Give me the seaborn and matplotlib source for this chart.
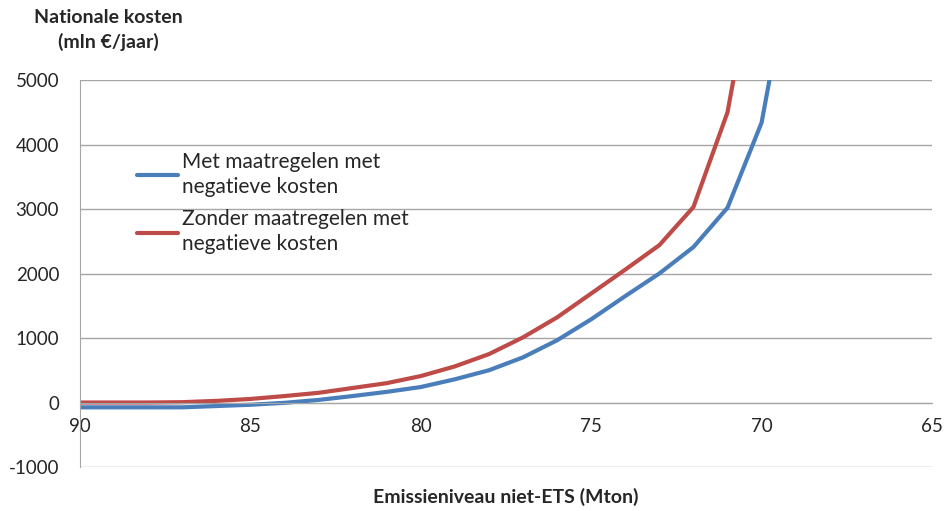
import pandas as pd
import numpy as np
import seaborn as sns
import matplotlib.pyplot as plt

# ============================================================
# DATA
# ============================================================
emissie = [90, 89, 88, 87, 86, 85, 84, 83, 82, 81, 80, 79, 78, 77, 76, 75, 74, 73, 72, 71, 70, 69]
met_neg = [-75, -75, -75, -75, -55, -35, -5, 40, 100, 165, 240, 360, 500, 700, 965, 1290,
           1650, 2000, 2410, 3020, 4340, 7200]
zonder_neg = [0, 0, 0, 5, 25, 55, 100, 150, 225, 300, 410, 560, 750, 1010, 1320, 1690,
              2060, 2440, 3030, 4500, 7400, np.nan]

label_met = "Met maatregelen met\nnegatieve kosten"
label_zonder = "Zonder maatregelen met\nnegatieve kosten"

df = pd.DataFrame({"emissie": emissie, label_met: met_neg, label_zonder: zonder_neg})
long_df = df.melt(id_vars="emissie", var_name="reeks", value_name="kosten").dropna()

# ============================================================
# PLOT
# ============================================================
sns.set_style("white")
plt.rcParams["font.family"] = ["Lato", "DejaVu Sans"]
plt.rcParams["axes.unicode_minus"] = False

fig = plt.figure(figsize=(9.52, 5.11), dpi=100)
ax = fig.add_axes([80 / 952, 1 - 467 / 511, 852 / 952, 387 / 511])

sns.lineplot(data=long_df, x="emissie", y="kosten", hue="reeks",
             palette=["#4a7ebb", "#be4b48"], linewidth=3, ax=ax,
             hue_order=[label_met, label_zonder], sort=False)

ax.set_xlim(90, 65)
ax.set_ylim(-1000, 5000)
ax.set_xticks([90, 85, 80, 75, 70, 65])
ax.set_yticks(range(-1000, 5001, 1000))
ax.yaxis.grid(True, color="#a6a6a6", linewidth=1)
ax.set_axisbelow(True)

for s in ["top", "right"]:
    ax.spines[s].set_visible(False)
ax.spines["left"].set_color("#a6a6a6")
ax.spines["bottom"].set_position(("data", 0))
ax.spines["bottom"].set_color("#a6a6a6")
ax.tick_params(axis="x", direction="out", length=6, color="#a6a6a6",
               labelsize=13.5, pad=5)
ax.tick_params(axis="y", length=0, labelsize=13.5, pad=15)

ax.set_xlabel("")
ax.set_ylabel("")
fig.text(506 / 952, 1 - 497 / 511, "Emissieniveau niet-ETS (Mton)", ha="center",
         va="center", fontsize=14, fontweight="bold")
fig.text(108 / 952, 1 - 30 / 511, "Nationale kosten\n(mln €/jaar)", ha="center",
         va="center", fontsize=14, fontweight="bold", linespacing=1.45)

leg = ax.legend(loc="upper left", bbox_to_anchor=(0.045, 0.862), frameon=False,
                fontsize=15, handlelength=1.95, handletextpad=0.2, labelspacing=0.6)
for t in leg.get_texts():
    t.set_linespacing(1.3)

fig.savefig("out.png", dpi=100)
